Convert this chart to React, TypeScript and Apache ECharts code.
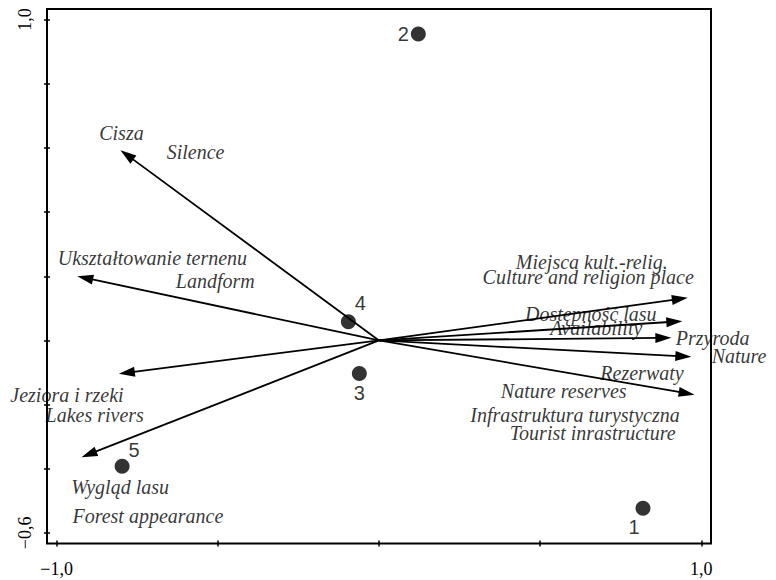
import React, { useEffect, useRef } from "react";
import * as echarts from "echarts";

// Environmental variables (arrow tips, ordination scores)
const arrowNames = [
  "Cisza",
  "Ukształtowanie terenu",
  "Jeziora i rzeki",
  "Wygląd lasu",
  "Miejsca kult.-relig.",
  "Dostępność lasu",
  "Przyroda",
  "Rezerwaty",
  "Infrastruktura turystyczna",
];
const arrowX = [-0.802, -0.936, -0.807, -0.923, 0.958, 0.941, 0.907, 0.969, 0.979];
const arrowY = [0.593, 0.2, -0.104, -0.364, 0.133, 0.06, 0.008, -0.051, -0.169];

// Sites (samples)
const siteNames = ["1", "2", "3", "4", "5"];
const siteX = [0.819, 0.122, -0.061, -0.095, -0.797];
const siteY = [-0.523, 0.955, -0.103, 0.058, -0.392];

// Annotation texts and their anchor positions (data units)
const labelTexts = [
  "Cisza",
  "Silence",
  "Ukształtowanie ternenu",
  "Landform",
  "Miejsca kult.-relig.",
  "Culture and religion place",
  "Dostępność lasu",
  "Availability",
  "Przyroda",
  "Nature",
  "Rezerwaty",
  "Nature reserves",
  "Infrastruktura turystyczna",
  "Tourist inrastructure",
  "Jeziora i rzeki",
  "Lakes rivers",
  "Wygląd lasu",
  "Forest appearance",
];
const labelX = [
  -0.799, -0.569, -0.703, -0.508, 0.66, 0.649, 0.657, 0.674, 1.035, 1.117,
  0.816, 0.573, 0.608, 0.663, -0.968, -0.882, -0.803, -0.717,
];
const labelY = [
  0.645, 0.586, 0.258, 0.184, 0.243, 0.197, 0.081, 0.04, 0.006, -0.049,
  -0.103, -0.158, -0.231, -0.288, -0.169, -0.231, -0.458, -0.546,
];

// Axes
const xRange = [-1.03, 1.03];
const yRange = [-0.633, 1.033];
const xTicks = [-1, -0.5, 0, 0.5, 1];
const xTickLabels = [-1, 1];
const yTicks = [-0.6, -0.4, -0.2, 0, 0.2, 0.4, 0.6, 0.8, 1.0];
const yTickLabels = [-0.6, 1.0];

// Layout: offsets of site number labels (px)
const siteLabelOffsets = [
  [-9, 19],
  [-15, 0],
  [0, 20],
  [12, -19],
  [12, -16],
];

const SERIF = "'Liberation Serif', 'Times New Roman', 'DejaVu Serif', serif";
const SANS = "'Liberation Sans', Arial, 'DejaVu Sans', sans-serif";

const fmt = (v: number) => v.toFixed(1).replace(".", ",").replace("-", "\u2212");

export default function App() {
  const ref = useRef<HTMLDivElement>(null);

  useEffect(() => {
    if (!ref.current) return;
    const chart = echarts.init(ref.current, undefined, { renderer: "svg" });

    const tickStyle = { color: "#000", width: 1.5 };
    const axisLabelStyle = {
      fontFamily: SERIF,
      fontSize: 18,
      color: "#000",
    };

    const makeX = (inside: boolean, labels: boolean) => ({
      type: "value",
      min: xRange[0],
      max: xRange[1],
      position: "bottom",
      axisLine: { show: false, onZero: false },
      splitLine: { show: false },
      axisTick: { show: true, inside, length: 3, customValues: xTicks, lineStyle: tickStyle },
      axisLabel: labels
        ? { show: true, customValues: xTickLabels, formatter: fmt, margin: 16, ...axisLabelStyle }
        : { show: false },
    });
    const makeY = (inside: boolean, labels: boolean) => ({
      type: "value",
      min: yRange[0],
      max: yRange[1],
      position: "left",
      axisLine: { show: false, onZero: false },
      splitLine: { show: false },
      axisTick: { show: true, inside, length: 3, customValues: yTicks, lineStyle: tickStyle },
      axisLabel: labels
        ? { show: true, customValues: yTickLabels, formatter: fmt, rotate: 90, margin: 13, ...axisLabelStyle }
        : { show: false },
    });

    chart.setOption({
      animation: false,
      backgroundColor: "#fff",
      grid: {
        left: 47,
        right: 65,
        top: 9,
        bottom: 36.5,
        show: true,
        borderColor: "#000",
        borderWidth: 2,
        backgroundColor: "transparent",
      },
      xAxis: [makeX(false, true), makeX(true, false)],
      yAxis: [makeY(false, true), makeY(true, false)],
      series: [
        {
          type: "custom",
          name: "variables",
          xAxisIndex: 0,
          yAxisIndex: 0,
          clip: false,
          data: arrowX.map((x, i) => ({ name: arrowNames[i], value: [x, arrowY[i]] })),
          encode: { x: 0, y: 1 },
          renderItem: (params: any, api: any) => {
            const o = api.coord([0, 0]);
            const t = api.coord([api.value(0), api.value(1)]);
            const dx = t[0] - o[0];
            const dy = t[1] - o[1];
            const len = Math.hypot(dx, dy);
            const ux = dx / len;
            const uy = dy / len;
            const L = 16;
            const W = 5;
            const bx = t[0] - ux * L;
            const by = t[1] - uy * L;
            return {
              type: "group",
              children: [
                {
                  type: "line",
                  shape: { x1: o[0], y1: o[1], x2: bx + ux * 3, y2: by + uy * 3 },
                  style: { stroke: "#000", lineWidth: 1.8 },
                },
                {
                  type: "polygon",
                  shape: {
                    points: [
                      [t[0], t[1]],
                      [bx - uy * W, by + ux * W],
                      [bx + uy * W, by - ux * W],
                    ],
                  },
                  style: { fill: "#000" },
                },
              ],
            };
          },
        },
        {
          type: "scatter",
          name: "labels",
          xAxisIndex: 0,
          yAxisIndex: 0,
          clip: false,
          symbolSize: 0,
          silent: true,
          data: labelX.map((x, i) => ({ name: labelTexts[i], value: [x, labelY[i]] })),
          label: {
            show: true,
            position: "inside",
            formatter: (p: any) => p.name,
            fontFamily: SERIF,
            fontStyle: "italic",
            fontSize: 20,
            color: "#000",
          },
          z: 3,
        },
        {
          type: "scatter",
          name: "sites",
          xAxisIndex: 0,
          yAxisIndex: 0,
          clip: false,
          symbol: "circle",
          symbolSize: 15,
          itemStyle: { color: "#000" },
          data: siteX.map((x, i) => ({
            name: siteNames[i],
            value: [x, siteY[i]],
            label: {
              show: true,
              position: "inside",
              offset: siteLabelOffsets[i],
              formatter: siteNames[i],
              fontFamily: SANS,
              fontSize: 20,
              color: "#000",
            },
          })),
          z: 4,
        },
      ],
    });

    return () => chart.dispose();
  }, []);

  return (
    <div
      ref={ref}
      style={{ position: "absolute", left: 0, top: 0, width: 776, height: 580 }}
    />
  );
}
